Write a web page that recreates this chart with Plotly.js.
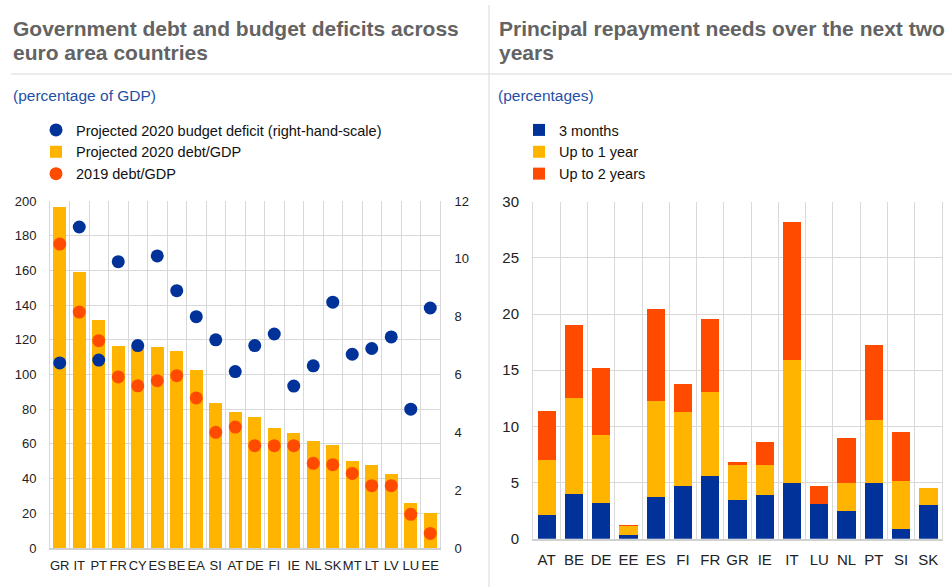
<!DOCTYPE html>
<html><head><meta charset="utf-8">
<script src="https://cdn.plot.ly/plotly-3.0.1.min.js"></script>
<style>html,body{margin:0;padding:0;background:#fff;} #chart{width:952px;height:587px;}</style>
</head><body><div id="chart"></div><script>
// Left chart data
const countries = ["GR","IT","PT","FR","CY","ES","BE","EA","SI","AT","DE","FI","IE","NL","SK","MT","LT","LV","LU","EE"];
const debt2020 = [196.7,158.9,131.4,116.4,116.4,115.7,113.5,102.6,83.4,78.4,75.3,69.0,66.1,61.7,59.2,50.3,48.0,42.7,25.9,20.2];
const debt2019 = [175.2,136.0,119.5,98.6,93.5,96.4,99.3,86.5,66.7,69.7,59.0,59.0,59.0,48.8,48.0,43.0,35.9,35.9,19.4,8.4];
const deficit2020 = [6.4,11.1,6.5,9.9,7.0,10.1,8.9,8.0,7.2,6.1,7.0,7.4,5.6,6.3,8.5,6.7,6.9,7.3,4.8,8.3];
// Right chart data
const repCountries = ["AT","BE","DE","EE","ES","FI","FR","GR","IE","IT","LU","NL","PT","SI","SK"];
const months3 = [2.14,4.0,3.15,0.3,3.74,4.7,5.6,3.47,3.9,5.0,3.1,2.5,4.93,0.84,3.0];
const upTo1Year = [4.86,8.5,6.1,0.83,8.56,6.6,7.5,3.13,2.7,10.9,0,2.5,5.67,4.3,1.54];
const upTo2Years = [4.4,6.5,5.95,0.07,8.15,2.5,6.5,0.23,2.0,12.3,1.6,4.0,6.6,4.36,0];

const BLUE = "#003299", YELLOW = "#FFB400", ORANGE = "#FF4B00";
const FONT = "Liberation Sans, Arial, sans-serif";
const W = 952, H = 587;
const px = v => v / W, py = v => 1 - v / H;

const traces = [
  {type:"bar", name:"Projected 2020 debt/GDP", x:countries, y:debt2020, xaxis:"x", yaxis:"y",
   marker:{color:YELLOW}, legend:"legend", legendrank:2},
  {type:"scatter", mode:"markers", name:"2019 debt/GDP", x:countries, y:debt2019, xaxis:"x", yaxis:"y",
   marker:{color:ORANGE, size:13}, legend:"legend", legendrank:3},
  {type:"scatter", mode:"markers", name:"Projected 2020 budget deficit (right-hand-scale)", x:countries, y:deficit2020,
   xaxis:"x", yaxis:"y2", marker:{color:BLUE, size:13}, legend:"legend", legendrank:1},
  {type:"bar", name:"3 months", x:repCountries, y:months3, xaxis:"x3", yaxis:"y3", marker:{color:BLUE}, legend:"legend2", legendrank:1},
  {type:"bar", name:"Up to 1 year", x:repCountries, y:upTo1Year, xaxis:"x3", yaxis:"y3", marker:{color:YELLOW}, legend:"legend2", legendrank:2},
  {type:"bar", name:"Up to 2 years", x:repCountries, y:upTo2Years, xaxis:"x3", yaxis:"y3", marker:{color:ORANGE}, legend:"legend2", legendrank:3}
];

const gridC = "#d9d9d9";
const tickFontL = {family:FONT, size:13, color:"#222"};
const tickFontR = {family:FONT, size:15, color:"#222"};
const xCommon = {type:"category", tickson:"boundaries", showgrid:true, gridcolor:gridC, gridwidth:1, tickangle:0,
  showline:true, linecolor:"#d0d0d0", linewidth:2, ticks:"", fixedrange:true, ticklabelstandoff:4};
const yCommon = {showgrid:true, gridcolor:gridC, gridwidth:1, showline:true, linecolor:gridC, linewidth:1,
  ticks:"", zeroline:false, fixedrange:true, ticklabelstandoff:10};

const titleFont = {family:FONT, size:21, color:"#636363", weight:700};
const subFont = {family:FONT, size:15.5, color:"#1f4fa6"};
const legFont = {family:FONT, size:14.5, color:"#111"};

const layout = {
  width:W, height:H, margin:{l:0,r:0,t:0,b:0}, paper_bgcolor:"#fff", plot_bgcolor:"#fff",
  font:{family:FONT, color:"#222"},
  barmode:"stack", bargap:0.33, showlegend:true,
  xaxis:Object.assign({}, xCommon, {domain:[px(50), px(440)], anchor:"y", range:[-0.5, countries.length - 0.5], tickfont:tickFontL}),
  yaxis:Object.assign({}, yCommon, {domain:[py(548), py(201)], range:[0,200], dtick:20, anchor:"x", tickfont:tickFontL}),
  yaxis2:Object.assign({}, yCommon, {overlaying:"y", side:"right", range:[0,12], dtick:2, showgrid:false, anchor:"x", ticklabelstandoff:11, tickfont:tickFontL}),
  xaxis3:Object.assign({}, xCommon, {domain:[px(533), px(942)], anchor:"y3", range:[-0.5, repCountries.length - 0.5], tickfont:tickFontR, ticklabelstandoff:6}),
  yaxis3:Object.assign({}, yCommon, {domain:[py(538.7), py(201.7)], range:[0,30], dtick:5, anchor:"x3", mirror:true, tickfont:tickFontR}),
  legend:{x:px(36), y:py(114), xanchor:"left", yanchor:"top", font:legFont,
    bgcolor:"rgba(0,0,0,0)", tracegroupgap:0, traceorder:"normal"},
  legend2:{x:px(519), y:py(114), xanchor:"left", yanchor:"top", font:legFont,
    bgcolor:"rgba(0,0,0,0)", tracegroupgap:0, traceorder:"normal"},
  annotations:[
    {xref:"paper", yref:"paper", x:px(11), y:py(28), xanchor:"left", yanchor:"middle", showarrow:false,
     text:"Government debt and budget deficits across", font:titleFont},
    {xref:"paper", yref:"paper", x:px(11), y:py(53), xanchor:"left", yanchor:"middle", showarrow:false,
     text:"euro area countries", font:titleFont},
    {xref:"paper", yref:"paper", x:px(497), y:py(28), xanchor:"left", yanchor:"middle", showarrow:false,
     text:"Principal repayment needs over the next two", font:titleFont},
    {xref:"paper", yref:"paper", x:px(497), y:py(53), xanchor:"left", yanchor:"middle", showarrow:false,
     text:"years", font:titleFont},
    {xref:"paper", yref:"paper", x:px(11), y:py(95), xanchor:"left", yanchor:"middle", showarrow:false,
     text:"(percentage of GDP)", font:subFont},
    {xref:"paper", yref:"paper", x:px(496), y:py(95), xanchor:"left", yanchor:"middle", showarrow:false,
     text:"(percentages)", font:subFont}
  ],
  shapes:[
    {type:"line", xref:"paper", yref:"paper", x0:px(11), x1:1, y0:py(74), y1:py(74), line:{color:gridC, width:1}},
    {type:"line", xref:"paper", yref:"paper", x0:px(489), x1:px(489), y0:py(5), y1:0, line:{color:gridC, width:1}}
  ]
};

Plotly.newPlot("chart", traces, layout, {displayModeBar:false, staticPlot:true});
</script></body></html>
